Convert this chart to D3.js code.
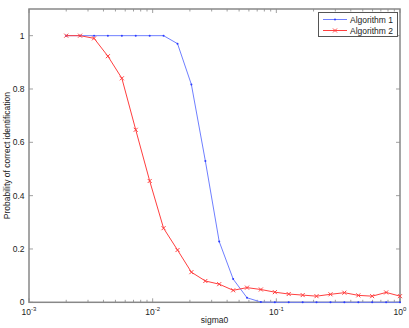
<!DOCTYPE html>
<meta charset="utf-8">
<style>
body { margin: 0; background: #fff; }
text { font-family: "Liberation Sans", Arial, sans-serif; fill: #222; }
</style>
<body>
<script src="https://cdn.jsdelivr.net/npm/d3@7/dist/d3.min.js"></script>
<script>

var width = 409,
    height = 328,
    margin = {top: 9, right: 9, bottom: 27, left: 29};

// 25 log-spaced sigma0 values, 0.002 .. 1
var sigmaLog = [-2.699, -2.587, -2.474, -2.362, -2.249, -2.137, -2.024, -1.912, -1.799,
                -1.687, -1.574, -1.462, -1.349, -1.237, -1.125, -1.012, -0.900, -0.787,
                -0.675, -0.562, -0.450, -0.337, -0.225, -0.112, 0];

var algo1 = [1, 1, 1, 1, 1, 1, 1, 1, 0.97, 0.817, 0.53, 0.228, 0.087, 0.017, 0.001,
             0, 0, 0, 0, 0, 0, 0, 0, 0, 0];
var algo2 = [1, 1, 0.99, 0.923, 0.84, 0.647, 0.455, 0.278, 0.196, 0.113, 0.08, 0.068,
             0.045, 0.055, 0.048, 0.038, 0.031, 0.027, 0.023, 0.03, 0.036, 0.026, 0.023,
             0.037, 0.023];

var yTicks = [0, 0.2, 0.4, 0.6, 0.8, 1];
var xDecades = [-3, -2, -1, 0];
var seriesNames = ["Algorithm 1", "Algorithm 2"];

var svg = d3.select("body").append("svg")
    .attr("width", width)
    .attr("height", height);

var x = d3.scaleLog()
    .domain([1e-3, 1])
    .range([margin.left, width - margin.right]);

var y = d3.scaleLinear()
    .domain([0, 1.1])
    .range([height - margin.bottom + 1.3, margin.top]);

var x0 = x.range()[0], x1 = x.range()[1],
    y0 = y(0), y1 = margin.top;

var axisColor = "#888";

// minor + major ticks on bottom and top
var xticks = [];
xDecades.forEach(function(d) {
  if (d < 0) for (var k = 1; k < 10; k++) xticks.push({v: k * Math.pow(10, d), major: k == 1});
  else xticks.push({v: 1, major: true});
});

var tg = svg.append("g").attr("stroke", axisColor).attr("stroke-width", 0.8);
xticks.forEach(function(t) {
  var len = t.major ? 4 : 2.5;
  tg.append("line").attr("x1", x(t.v)).attr("x2", x(t.v)).attr("y1", y0).attr("y2", y0 - len);
  tg.append("line").attr("x1", x(t.v)).attr("x2", x(t.v)).attr("y1", y1).attr("y2", y1 + len);
});
yTicks.forEach(function(v) {
  tg.append("line").attr("x1", x0).attr("x2", x0 + 4).attr("y1", y(v)).attr("y2", y(v));
  tg.append("line").attr("x1", x1).attr("x2", x1 - 4).attr("y1", y(v)).attr("y2", y(v));
});

// box
svg.append("rect")
    .attr("x", x0).attr("y", y1)
    .attr("width", x1 - x0).attr("height", y0 - y1)
    .attr("fill", "none").attr("stroke", axisColor).attr("stroke-width", 1.5);

// y tick labels
svg.append("g").selectAll("text").data(yTicks).enter().append("text")
    .attr("x", x0 - 4.5).attr("y", d => y(d) + 3)
    .attr("text-anchor", "end").attr("font-size", 8.5)
    .text(d => d3.format("~g")(d));

// x tick labels 10^k
var xl = svg.append("g").selectAll("text").data(xDecades).enter().append("text")
    .attr("x", d => x(Math.pow(10, d))).attr("y", y0 + 13)
    .attr("text-anchor", "middle").attr("font-size", 8.5);
xl.append("tspan").text("10");
xl.append("tspan").attr("dy", -4).attr("font-size", 6).text(d => d);

// axis labels
svg.append("text")
    .attr("x", (x0 + x1) / 2).attr("y", height - 5.5)
    .attr("text-anchor", "middle").attr("font-size", 8.5)
    .text("sigma0");

svg.append("text")
    .attr("transform", "translate(9.5," + (y0 + y1) / 2 + ") rotate(-90)")
    .attr("text-anchor", "middle").attr("font-size", 8.5)
    .text("Probability of correct identification");

var blue = "#6f7fff", red = "#ff3f3f";

var line = d3.line().x(d => x(Math.pow(10, d[0]))).y(d => y(d[1]));

var d1 = sigmaLog.map((s, i) => [s, algo1[i]]);
var d2 = sigmaLog.map((s, i) => [s, algo2[i]]);

svg.append("path").datum(d1).attr("d", line)
    .attr("fill", "none").attr("stroke", blue).attr("stroke-width", 1);
svg.append("g").selectAll("circle").data(d1).enter().append("circle")
    .attr("cx", d => x(Math.pow(10, d[0]))).attr("cy", d => y(d[1]))
    .attr("r", 1).attr("fill", "#2b3bff");

svg.append("path").datum(d2).attr("d", line)
    .attr("fill", "none").attr("stroke", red).attr("stroke-width", 1);

function cross(g, cx, cy) {
  var s = 2;
  g.append("path")
    .attr("d", "M" + (cx - s) + "," + (cy - s) + "L" + (cx + s) + "," + (cy + s) +
               "M" + (cx - s) + "," + (cy + s) + "L" + (cx + s) + "," + (cy - s))
    .attr("stroke", red).attr("stroke-width", 1).attr("fill", "none");
}
var mg = svg.append("g");
d2.forEach(d => cross(mg, x(Math.pow(10, d[0])), y(d[1])));

// legend
var lg = svg.append("g");
lg.append("rect")
    .attr("x", 318.5).attr("y", 12.5).attr("width", 79).attr("height", 24)
    .attr("fill", "#fff").attr("stroke", "#555").attr("stroke-width", 1);
seriesNames.forEach(function(name, i) {
  var ly = 19.5 + i * 11, c = i == 0 ? blue : red;
  lg.append("line").attr("x1", 323).attr("x2", 347).attr("y1", ly).attr("y2", ly)
    .attr("stroke", c).attr("stroke-width", 1);
  if (i == 0) lg.append("circle").attr("cx", 335).attr("cy", ly).attr("r", 1).attr("fill", "#2b3bff");
  else cross(lg, 335, ly);
  lg.append("text").attr("x", 350).attr("y", ly + 3).attr("font-size", 8.5).text(name);
});

</script>
